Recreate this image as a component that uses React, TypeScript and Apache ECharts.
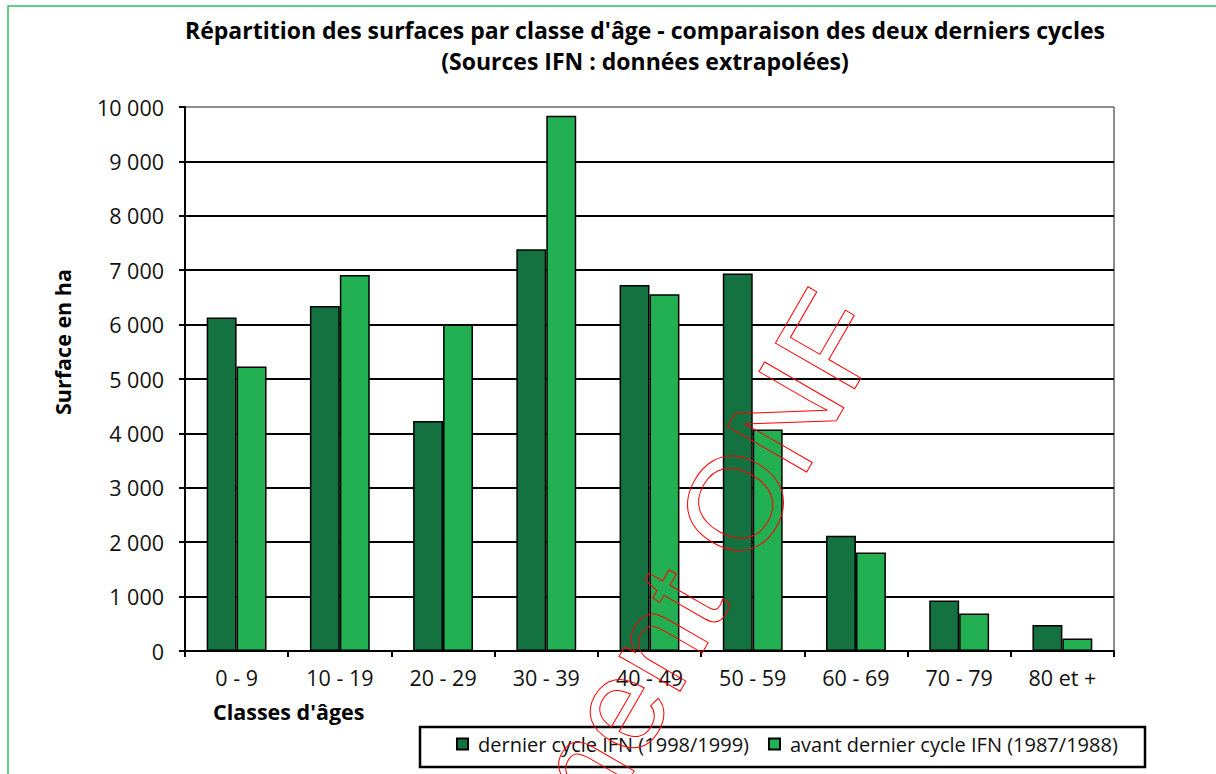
import React, { useEffect, useRef } from "react";
import * as echarts from "echarts";

const categories = ["0 - 9", "10 - 19", "20 - 29", "30 - 39", "40 - 49", "50 - 59", "60 - 69", "70 - 79", "80 et +"];
const dernierCycle = [6130, 6340, 4230, 7385, 6730, 6940, 2120, 930, 480];
const avantDernierCycle = [5230, 6910, 6000, 9840, 6560, 4070, 1810, 690, 230];
const seriesNames = ["dernier cycle IFN (1998/1999)", "avant dernier cycle IFN (1987/1988)"];
const titleLines = [
  "Répartition des surfaces par classe d'âge - comparaison des deux derniers cycles",
  "(Sources IFN : données extrapolées)",
];

const FONT = "'Open Sans', 'Noto Sans', sans-serif";
const fmt = (v: number) => String(v).replace(/\B(?=(\d{3})+(?!\d))/g, " ");

export default function App() {
  const ref = useRef<HTMLDivElement>(null);
  useEffect(() => {
    if (!ref.current) return;
    const chart = echarts.init(ref.current, null, { renderer: "svg" });
    const gridColors = Array.from({ length: 11 }, (_, i) => (i === 10 ? "#8c8c8c" : "#000000"));
    chart.setOption({
      animation: false,
      backgroundColor: "#ffffff",
      textStyle: { fontFamily: FONT },
      grid: { left: 185, right: 102, top: 107, bottom: 123, containLabel: false, show: false },
      xAxis: {
        type: "category",
        data: categories,
        axisLine: { show: true, lineStyle: { color: "#000", width: 2 } },
        axisTick: { show: true, length: 6, lineStyle: { color: "#000", width: 2 } },
        axisLabel: { color: "#111", fontSize: 21.5, fontFamily: FONT, margin: 15 },
      },
      yAxis: {
        type: "value",
        min: 0,
        max: 10000,
        interval: 1000,
        axisLine: { show: true, lineStyle: { color: "#000", width: 2 } },
        axisTick: { show: true, length: 6, lineStyle: { color: "#000", width: 2 } },
        axisLabel: { color: "#111", fontSize: 21.5, fontFamily: FONT, margin: 21, formatter: fmt },
        splitLine: { show: true, lineStyle: { color: gridColors, width: 2 } },
      },
      legend: {
        left: 456,
        top: 734,
        padding: 0,
        itemWidth: 11,
        itemHeight: 11,
        itemGap: 19,
        icon: "rect",
        textStyle: { fontSize: 20, color: "#111", fontFamily: FONT, padding: [0, 0, 0, 5] },
        data: seriesNames,
      },
      series: [
        {
          name: seriesNames[0],
          type: "bar",
          data: dernierCycle,
          barGap: "0%",
          barCategoryGap: "42%",
          itemStyle: { color: "#147140", borderColor: "#000", borderWidth: 1.5 },
        },
        {
          name: seriesNames[1],
          type: "bar",
          data: avantDernierCycle,
          itemStyle: { color: "#22b052", borderColor: "#000", borderWidth: 1.5 },
        },
      ],
      graphic: [
        {
          type: "rect",
          shape: { x: 8, y: 6, width: 1400, height: 1000 },
          style: { fill: "none", stroke: "#2fbf63", lineWidth: 1.5 },
          silent: true,
        },
        {
          type: "line",
          shape: { x1: 1114, y1: 107, x2: 1114, y2: 651 },
          style: { stroke: "#8c8c8c", lineWidth: 2 },
          silent: true,
        },
        {
          type: "text",
          x: 645,
          y: 30,
          style: { text: titleLines[0], font: `bold 23px ${FONT}`, fill: "#000", textAlign: "center", textVerticalAlign: "middle" },
        },
        {
          type: "text",
          x: 645,
          y: 61,
          style: { text: titleLines[1], font: `bold 23px ${FONT}`, fill: "#000", textAlign: "center", textVerticalAlign: "middle" },
        },
        {
          type: "text",
          x: 62,
          y: 342,
          rotation: Math.PI / 2,
          style: { text: "Surface en ha", font: `bold 21.5px ${FONT}`, fill: "#000", textAlign: "center", textVerticalAlign: "middle" },
        },
        {
          type: "text",
          x: 213,
          y: 711,
          style: { text: "Classes d'âges", font: `bold 21.5px ${FONT}`, fill: "#000", textAlign: "left", textVerticalAlign: "middle" },
        },
        {
          type: "rect",
          shape: { x: 420, y: 727, width: 725, height: 40 },
          style: { fill: "none", stroke: "#000", lineWidth: 2.5 },
          silent: true,
        },
        {
          type: "text",
          x: 850,
          y: 305,
          rotation: (60 * Math.PI) / 180,
          z: 100,
          silent: true,
          style: {
            text: "Document ONF",
            font: "133px 'Liberation Sans', Arial, sans-serif",
            fill: "none",
            stroke: "#ff0000",
            lineWidth: 1,
            textAlign: "right",
            textVerticalAlign: "middle",
          },
        },
      ],
    });
    return () => chart.dispose();
  }, []);
  return <div ref={ref} style={{ position: "fixed", left: 0, top: 0, width: 1216, height: 774 }} />;
}
